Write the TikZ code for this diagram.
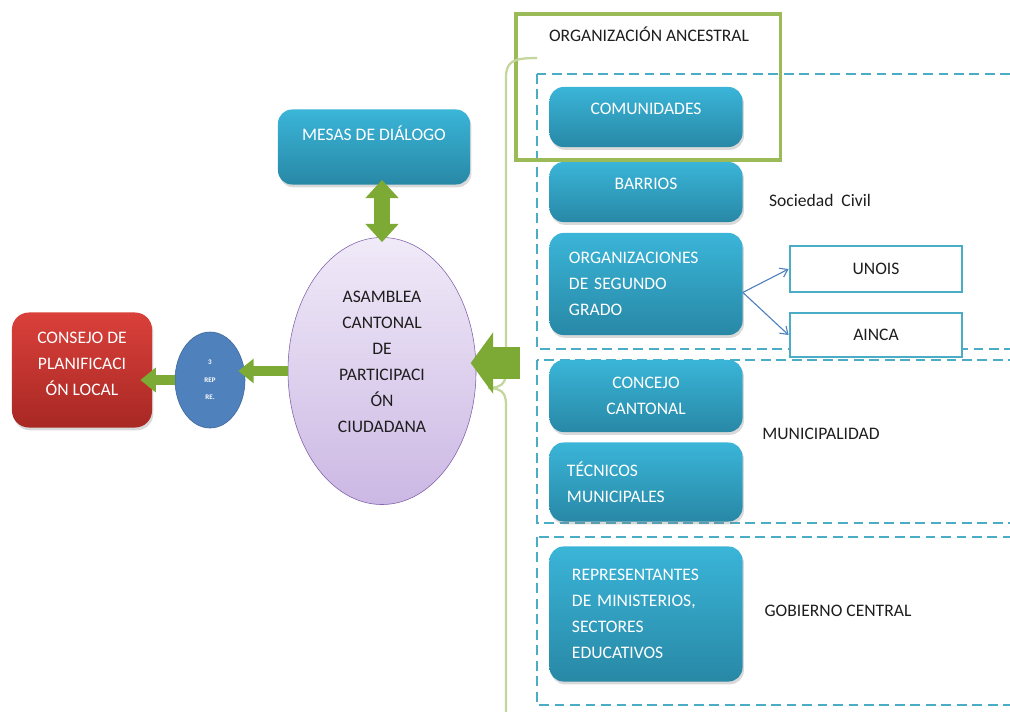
\documentclass[tikz,border=0pt]{standalone}
\usepackage{fontspec}
\setmainfont{Carlito}
\usetikzlibrary{arrows.meta,shapes.geometric,shadows}
\definecolor{tealtop}{RGB}{58,181,216}
\definecolor{tealbot}{RGB}{40,136,166}
\definecolor{redtop}{RGB}{218,64,58}
\definecolor{redbot}{RGB}{168,40,36}
\definecolor{liltop}{RGB}{240,234,248}
\definecolor{lilbot}{RGB}{204,184,228}
\definecolor{lilline}{RGB}{128,96,170}
\definecolor{repblue}{RGB}{79,129,189}
\definecolor{arrgreen}{RGB}{124,170,52}
\definecolor{boxgreen}{RGB}{155,187,89}
\definecolor{bracegreen}{RGB}{195,214,155}
\definecolor{dashblue}{RGB}{75,172,198}
\definecolor{inkdark}{RGB}{30,30,30}
\newcommand{\lifttext}[2]{\raisebox{#1}[\height][\depth]{#2}}
\begin{document}
\begin{tikzpicture}[x=0.025cm, y=-0.025cm,
  boxfont/.style={font=\fontsize{12.5}{18.5}\selectfont},
  tealbox/.style={boxfont, rounded corners=10pt, top color=tealtop, bottom color=tealbot, text=white, minimum width=4.825cm, drop shadow={opacity=0.3, shadow xshift=1pt, shadow yshift=-2pt}},
  plaintext/.style={boxfont, text=inkdark},
  outbox/.style={boxfont, draw=dashblue, line width=2pt, fill=white, text=inkdark, minimum width=4.3cm},
  dashbox/.style={draw=dashblue, line width=1.1pt, dash pattern=on 7pt off 4pt},
  greenarrow/.style={draw=arrgreen, line width=7pt, -{Triangle[length=11pt, width=17pt]}},
  bigarrow/.style={draw=arrgreen, line width=23pt, -{Triangle[length=16pt, width=43pt]}},
  link/.style={draw=repblue, line width=0.8pt, -{Straight Barb[length=5pt, width=7pt]}}]
	\clip (0,0) rectangle (1010,711);

	% grupos
	\draw[dashbox] (537,74) rectangle (1040,349);
	\draw[dashbox] (537,360) rectangle (1040,523);
	\draw[dashbox] (537,537) rectangle (1040,705);

	% columna derecha
	\node[tealbox, minimum height=1.5cm] at (646,117) (comunidades) {\lifttext{5.9pt}{COMUNIDADES}};
	\node[tealbox, minimum height=1.5cm] at (646,192) (barrios) {\lifttext{5.9pt}{BARRIOS}};
	\node[tealbox, minimum height=2.55cm, align=left, text width=3.85cm] at (646,284) (organizaciones) {ORGANIZACIONES\\DE SEGUNDO\\GRADO};
	\node[tealbox, minimum height=1.8cm, align=center] at (646,396) (concejo) {CONCEJO\\CANTONAL};
	\node[tealbox, minimum height=1.975cm, align=left, text width=3.95cm] at (646,482) (tecnicos) {TÉCNICOS\\MUNICIPALES};
	\node[tealbox, minimum height=3.375cm, align=left, text width=3.7cm] at (646,614) (representantes) {REPRESENTANTES\\DE MINISTERIOS,\\SECTORES\\EDUCATIVOS};

	\node[draw=boxgreen, line width=2.2pt, minimum width=6.6cm, minimum height=3.65cm] at (648,87) (ancestral) {};
	\node[plaintext] at (649,34) (ancestraltxt) {ORGANIZACIÓN\ ANCESTRAL};

	\node[plaintext] at (820,200) (civil) {Sociedad\ \ Civil};
	\node[plaintext] at (821,434) (municipalidad) {MUNICIPALIDAD};
	\node[plaintext] at (838,611) (gobierno) {GOBIERNO CENTRAL};

	\node[outbox, minimum height=1.15cm] at (876,269) (unois) {UNOIS};
	\node[outbox, minimum height=1.1cm] at (876,335) (ainca) {AINCA};

	\path
	([yshift=-6pt]organizaciones.east) edge[link] (unois.west)
	([yshift=-6pt]organizaciones.east) edge[link] (ainca.west);

	% llave
	\coordinate (bracetop) at (537,58);
	\coordinate (bracemid) at (488,388);
	\draw[bracegreen, line width=1.6pt] (bracetop) .. controls (512,58) and (506,62) .. (506,78) -- (506,372)
		.. controls (506,384) and (500,388) .. (bracemid) .. controls (500,388) and (506,392) .. (506,404) -- (506,720);

	% centro
	\node[tealbox, minimum width=4.8cm, minimum height=1.875cm] at (374,147) (mesas) {\lifttext{10pt}{MESAS DE DIÁLOGO}};
	\node[ellipse, boxfont, draw=lilline, top color=liltop, bottom color=lilbot, text=inkdark, minimum width=4.7cm, minimum height=6.675cm] at (382,371) (asamblea)
		{\lifttext{6.4pt}{\begin{tabular}{@{}c@{}}ASAMBLEA\\CANTONAL\\DE\\PARTICIPACI\\ÓN\\CIUDADANA\end{tabular}}};
	\node[ellipse, draw=repblue!80!black, fill=repblue, text=white, font=\fontsize{5}{12.5}\selectfont\bfseries, align=center, minimum width=1.75cm, minimum height=2.4cm] at (210,380) (rep) {3\\REP\\RE.};
	\node[boxfont, rounded corners=12pt, top color=redtop, bottom color=redbot, text=white, minimum width=3.5cm, minimum height=2.875cm, drop shadow={opacity=0.3, shadow xshift=1pt, shadow yshift=-2pt}] at (82,370) (consejo)
		{\lifttext{4.3pt}{\begin{tabular}{@{}c@{}}CONSEJO DE\\PLANIFICACI\\ÓN LOCAL\end{tabular}}};

	\coordinate (arrowtail) at (520,363);
	\draw[bigarrow, shorten >=-4pt] (arrowtail) -- (asamblea.east |- arrowtail);
	\draw[greenarrow, shorten >=-5pt] (asamblea.west) -- (rep.east |- asamblea.west);
	\draw[greenarrow, shorten >=-8.5pt] (rep.west) -- (consejo.east |- rep.west);
	\draw[draw=arrgreen, line width=12pt, {Triangle[length=13pt, width=23pt]}-{Triangle[length=13pt, width=23pt]}, shorten <=-3.5pt, shorten >=-3.5pt]
		(asamblea.north |- mesas.south) -- (asamblea.north);
\end{tikzpicture}
\end{document}
